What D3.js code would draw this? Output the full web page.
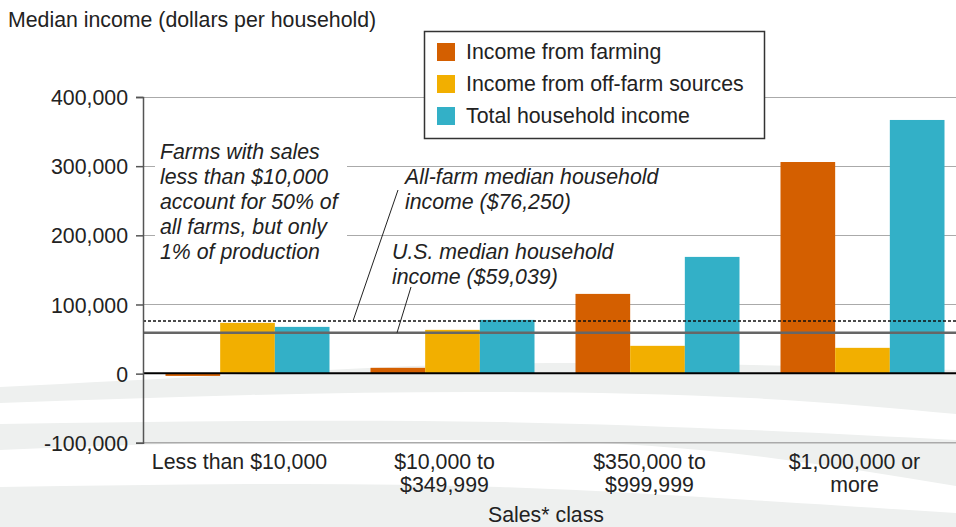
<!DOCTYPE html>
<html>
  <head>
  <meta charset="utf-8">
  <title>Median household income by sales class</title>
  <style>
    body, html {
      margin: 0;
      padding: 0;
      background: #fff;
    }
    svg text {
      font-family: "Liberation Sans", Arial, sans-serif;
      fill: #222;
    }
  </style>
  </head>
  <body>

  <svg id="svg" width="956" height="527"></svg>

  <script src="https://d3js.org/d3.v7.min.js"></script>
  <script>
    // data
    const categories = ['Less than $10,000', '$10,000 to\n$349,999', '$350,000 to\n$999,999', '$1,000,000 or\nmore']
    const farming = [-3300, 8400, 115300, 306000]
    const offFarm = [73400, 63300, 40200, 37300]
    const total = [67600, 77700, 168800, 366800]
    const seriesNames = ['Income from farming', 'Income from off-farm sources', 'Total household income']
    const yTicks = [-100000, 0, 100000, 200000, 300000, 400000]
    const allFarmMedian = 76250
    const usMedian = 59039

    const colors = ['#d45f00', '#f2af00', '#33b0c7']
    const width = 956
    const height = 527
    const margin = { top: 97, right: 0, bottom: 84, left: 143 }
    const fs = 21.3

    const svg = d3.select('#svg')

    // decorative background swooshes
    const band = (top, bottom) => {
      const line = d3.line().curve(d3.curveNatural)
      const b = bottom.slice().reverse()
      return line(top) + 'L' + line(b).slice(1) + 'Z'
    }
    const bg = svg.append('g').attr('fill', '#eef0ef')
    bg.append('path').attr('d', band(
      [[0, 387], [250, 374], [550, 363], [956, 370]],
      [[0, 403], [250, 395], [500, 392], [750, 398], [956, 414]]))
    bg.append('path').attr('d', band(
      [[0, 424], [250, 421], [500, 422], [750, 430], [956, 440]],
      [[0, 450], [200, 443], [450, 440], [700, 450], [956, 486]]))
    bg.append('path').attr('d', band(
      [[0, 487], [250, 484], [500, 487], [750, 500], [956, 513]],
      [[0, 530], [956, 530]]))

    const xscale = d3.scaleBand()
      .domain(categories)
      .range([margin.left + 2, margin.left + 2 + 205 * 4])
      .paddingInner(0.2)
      .paddingOuter(0.1)

    const x1 = d3.scaleBand()
      .domain(d3.range(3))
      .range([0, xscale.bandwidth()])

    const yscale = d3.scaleLinear()
      .domain([-100000, 400000])
      .range([height - margin.bottom - 0.2, margin.top])

    // gridlines
    svg.append('g')
      .selectAll('line')
      .data(yTicks.filter(d => d > 0))
      .enter()
      .append('line')
      .attr('x1', margin.left)
      .attr('x2', width)
      .attr('y1', d => Math.round(yscale(d)) + 0.5)
      .attr('y2', d => Math.round(yscale(d)) + 0.5)
      .attr('stroke', '#aaa')
      .attr('stroke-width', 1)

    // bottom line
    svg.append('line')
      .attr('x1', margin.left).attr('x2', width)
      .attr('y1', yscale(-100000)).attr('y2', yscale(-100000))
      .attr('stroke', '#aaa')
      .attr('stroke-width', 1.5)

    // bars
    const rows = categories.map((c, i) => ({ cat: c, vals: [farming[i], offFarm[i], total[i]] }))
    const groups = svg.append('g')
      .selectAll('g')
      .data(rows)
      .enter()
      .append('g')
      .attr('transform', d => `translate(${xscale(d.cat)},0)`)
    groups.selectAll('rect')
      .data(d => d.vals)
      .enter()
      .append('rect')
      .attr('x', (d, i) => x1(i))
      .attr('y', d => yscale(Math.max(0, d)))
      .attr('width', x1.bandwidth())
      .attr('height', d => Math.abs(yscale(d) - yscale(0)))
      .attr('fill', (d, i) => colors[i])

    // reference lines
    svg.append('line')
      .attr('x1', margin.left).attr('x2', width)
      .attr('y1', yscale(allFarmMedian)).attr('y2', yscale(allFarmMedian))
      .attr('stroke', '#111')
      .attr('stroke-width', 1.5)
      .attr('stroke-dasharray', '3,2')
    svg.append('line')
      .attr('x1', margin.left).attr('x2', width)
      .attr('y1', yscale(usMedian)).attr('y2', yscale(usMedian))
      .attr('stroke', '#666')
      .attr('stroke-width', 2.5)

    // zero line
    svg.append('line')
      .attr('x1', margin.left).attr('x2', width)
      .attr('y1', yscale(0) - 0.5).attr('y2', yscale(0) - 0.5)
      .attr('stroke', '#000')
      .attr('stroke-width', 2)

    // y axis
    const leftAxis = d3.axisLeft(yscale)
      .tickValues(yTicks)
      .tickFormat(d => d3.format(',')(d).replace('\u2212', '-'))
      .tickSize(7)
      .tickPadding(8)
    const ya = svg.append('g')
      .attr('transform', `translate(${margin.left},0)`)
      .call(leftAxis)
    ya.select('.domain').attr('stroke', '#555').attr('stroke-width', 1.5)
    ya.selectAll('.tick line').attr('stroke', '#555').attr('stroke-width', 1.5)
    ya.selectAll('.tick text')
      .attr('font-size', fs)
      .attr('font-family', '"Liberation Sans", Arial, sans-serif')
      .attr('fill', '#222')
      .attr('dy', '0.36em')

    // x labels (sit a little left of the group centres, as in the source)
    const xl = svg.append('g')
      .selectAll('text')
      .data(categories)
      .enter()
      .append('text')
      .attr('x', d => xscale(d) + xscale.bandwidth() / 2 - 8)
      .attr('y', 469)
      .attr('text-anchor', 'middle')
      .attr('font-size', fs)
    xl.selectAll('tspan')
      .data(d => d.split('\n'))
      .enter()
      .append('tspan')
      .attr('x', function () { return this.parentNode.getAttribute('x') })
      .attr('dy', (d, i) => i === 0 ? 0 : 23)
      .text(d => d)

    svg.append('text')
      .attr('x', 546).attr('y', 522)
      .attr('text-anchor', 'middle')
      .attr('font-size', fs)
      .text('Sales* class')

    svg.append('text')
      .attr('x', 8).attr('y', 27)
      .attr('font-size', fs)
      .text('Median income (dollars per household)')

    // annotations
    svg.append('rect')
      .attr('x', 155).attr('y', 140).attr('width', 192).attr('height', 125)
      .attr('fill', '#fff')
    const note = (lines, x, y) => {
      const t = svg.append('text')
        .attr('x', x).attr('y', y)
        .attr('font-size', fs)
        .attr('font-style', 'italic')
      t.selectAll('tspan')
        .data(lines)
        .enter()
        .append('tspan')
        .attr('x', x)
        .attr('dy', (d, i) => i === 0 ? 0 : 25)
        .text(d => d)
    }
    note(['Farms with sales', 'less than $10,000', 'account for 50% of', 'all farms, but only', '1% of production'], 160, 159)
    note(['All-farm median household', 'income ($76,250)'], 405, 184)
    note(['U.S. median household', 'income ($59,039)'], 392, 259)

    svg.append('line')
      .attr('x1', 398).attr('y1', 190).attr('x2', 353).attr('y2', yscale(allFarmMedian))
      .attr('stroke', '#222').attr('stroke-width', 1)
    svg.append('line')
      .attr('x1', 411).attr('y1', 287).attr('x2', 397).attr('y2', yscale(usMedian))
      .attr('stroke', '#222').attr('stroke-width', 1)

    // legend
    const legend = svg.append('g').attr('transform', 'translate(424,31)')
    legend.append('rect')
      .attr('x', 0.5).attr('y', 0.5)
      .attr('width', 340).attr('height', 107)
      .attr('fill', '#fff')
      .attr('stroke', '#333')
      .attr('stroke-width', 1.5)
    const items = legend.selectAll('g.item')
      .data(seriesNames)
      .enter()
      .append('g')
      .attr('class', 'item')
      .attr('transform', (d, i) => `translate(13,${12 + i * 32})`)
    items.append('rect')
      .attr('width', 18).attr('height', 18)
      .attr('fill', (d, i) => colors[i])
    items.append('text')
      .attr('x', 29).attr('y', 16)
      .attr('font-size', fs)
      .text(d => d)
  </script>
  </body>
</html>
